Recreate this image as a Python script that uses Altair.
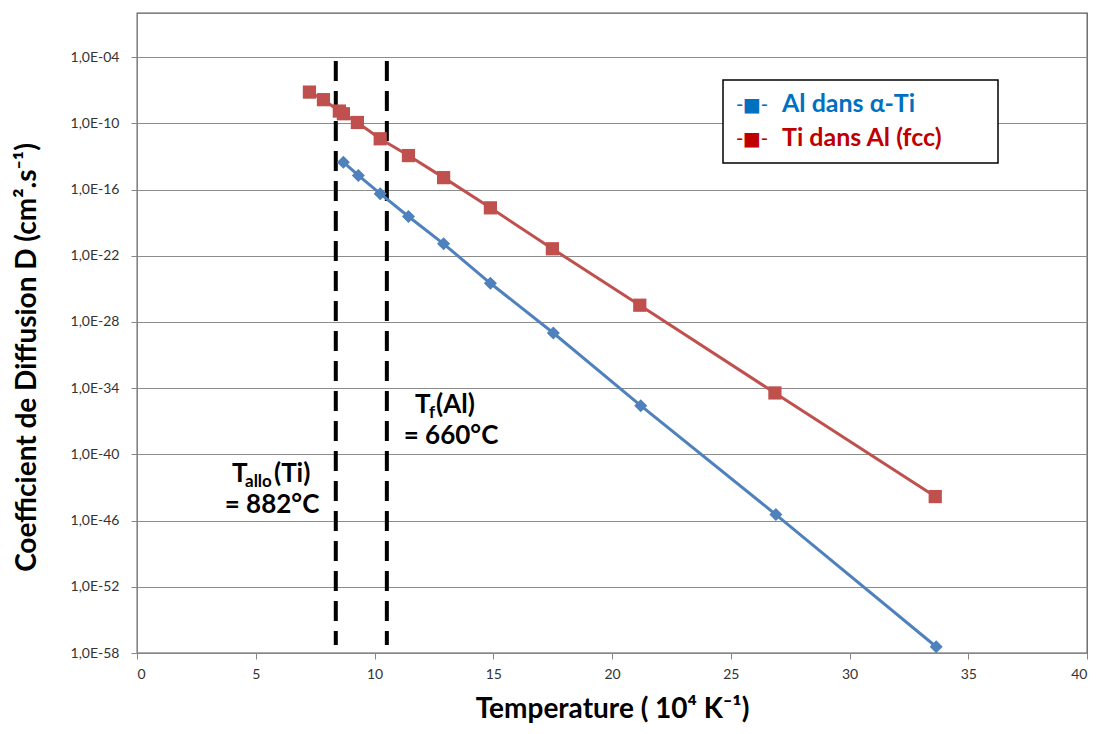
import altair as alt
import pandas as pd

# ---- data ----
ti_in_al_x = [7.26, 7.85, 8.52, 8.69, 9.28, 10.24, 11.43, 12.91, 14.88, 17.49, 21.17, 26.86, 33.61]
ti_in_al_d = [6.8e-8, 1.4e-8, 1.3e-9, 7.4e-10, 1.2e-10, 4.0e-12, 1.2e-13, 1.2e-15,
              2.2e-18, 4.3e-22, 3.3e-27, 3.7e-35, 1.5e-44]
al_in_ti_x = [8.69, 9.32, 10.24, 11.43, 12.91, 14.88, 17.53, 21.21, 26.90, 33.65]
al_in_ti_d = [3.0e-14, 1.9e-15, 4.2e-17, 3.6e-19, 1.2e-21, 3.2e-25, 1.0e-29, 2.6e-36, 3.5e-46, 3.7e-58]
transition_x = [8.37, 10.52]
y_ticks = [1e-58, 1e-52, 1e-46, 1e-40, 1e-34, 1e-28, 1e-22, 1e-16, 1e-10, 1e-4]
x_ticks = [0, 5, 10, 15, 20, 25, 30, 35, 40]

RED = "#C0504D"
BLUE = "#4F81BD"
FONT = "Lato"

red_df = pd.DataFrame({"x": ti_in_al_x, "D": ti_in_al_d})
blue_df = pd.DataFrame({"x": al_in_ti_x, "D": al_in_ti_d})
rule_df = pd.DataFrame({"x": transition_x})
one = pd.DataFrame({"k": [0]})

x_enc = alt.X(
    "x:Q",
    scale=alt.Scale(domain=[0, 40], nice=False, zero=False),
    axis=alt.Axis(
        values=x_ticks, grid=False, title="Temperature ( 10⁴ K⁻¹)",
        titleFont=FONT, titleFontSize=28, titleFontWeight="bold", titleColor="black",
        titleBaseline="middle", titleY=56,
        labelFont=FONT, labelFontSize=14, labelColor="#333333", labelPadding=8,
        tickSize=6, domainColor="#868686", tickColor="#868686",
    ),
)
y_enc = alt.Y(
    "D:Q",
    scale=alt.Scale(type="log", domain=[1e-58, 1], nice=False),
    axis=alt.Axis(
        values=y_ticks, grid=True, gridColor="#8c8c8c", gridWidth=1,
        labelExpr="'1,0E-' + (round(-log(datum.value)/LN10) < 10 ? '0' : '') + round(-log(datum.value)/LN10)",
        title="Coefficient de Diffusion D (cm².s⁻¹)",
        titleFont=FONT, titleFontSize=28, titleFontWeight="bold", titleColor="black",
        titleX=-110, titleY=344, titleBaseline="middle", titleAlign="center", titleAngle=270,
        labelFont=FONT, labelFontSize=14, labelColor="#333333", labelPadding=12,
        tickSize=6, domainColor="#868686", tickColor="#868686",
    ),
)

blue_line = alt.Chart(blue_df).mark_line(color=BLUE, strokeWidth=3).encode(x=x_enc, y=y_enc)
blue_pts = alt.Chart(blue_df).mark_point(shape="diamond", filled=True, color=BLUE, size=170, opacity=1).encode(x=x_enc, y=y_enc)
red_line = alt.Chart(red_df).mark_line(color=RED, strokeWidth=3).encode(x=x_enc, y=y_enc)
red_pts = alt.Chart(red_df).mark_square(color=RED, size=175, opacity=1).encode(x=x_enc, y=y_enc)

rules = alt.Chart(rule_df).mark_rule(color="black", strokeWidth=4, strokeDash=[20, 10]).encode(
    x="x:Q", y=alt.value(48), y2=alt.value(632)
)

def txt(s, x, y, size=25, color="black", align="left", weight="bold", font=FONT):
    return alt.Chart(one).mark_text(
        text=s, font=font, fontSize=size, fontWeight=weight, color=color,
        align=align, baseline="alphabetic",
    ).encode(x=alt.value(x), y=alt.value(y))

annots = [
    txt("T", 95, 469, size=26), txt("allo", 108, 474, size=17), txt("(Ti)", 137, 469, size=26),
    txt("= 882°C", 135, 500, size=26, align="center"),
    txt("T", 278, 400, size=26), txt("f", 292, 405, size=17), txt("(Al)", 299, 400, size=26),
    txt("= 660°C", 314, 431, size=26, align="center"),
]

legend_box = alt.Chart(one).mark_rect(fill="white", stroke="black", strokeWidth=1.5).encode(
    x=alt.value(586), x2=alt.value(861), y=alt.value(67), y2=alt.value(150)
)
legend = [
    legend_box,
    txt("-■-", 615, 98, size=19, color="#0070C0", align="center", weight="normal", font="DejaVu Sans"),
    txt("Al dans α-Ti", 645, 99, size=25, color="#0070C0"),
    txt("-■-", 615, 132, size=19, color="#C00000", align="center", weight="normal", font="DejaVu Sans"),
    txt("Ti dans Al (fcc)", 645, 133, size=25, color="#C00000"),
]

chart = alt.layer(
    rules, blue_line, red_line, blue_pts, red_pts, *annots, *legend
).properties(
    width=950, height=640,
    padding={"left": 129, "top": 5, "right": 4, "bottom": 72},
    autosize=alt.AutoSizeParams(type="none"),
    background="white",
).configure_view(stroke="#595959", strokeWidth=1.3)

chart.save("out.html", embed_options={"renderer": "svg", "actions": False})
